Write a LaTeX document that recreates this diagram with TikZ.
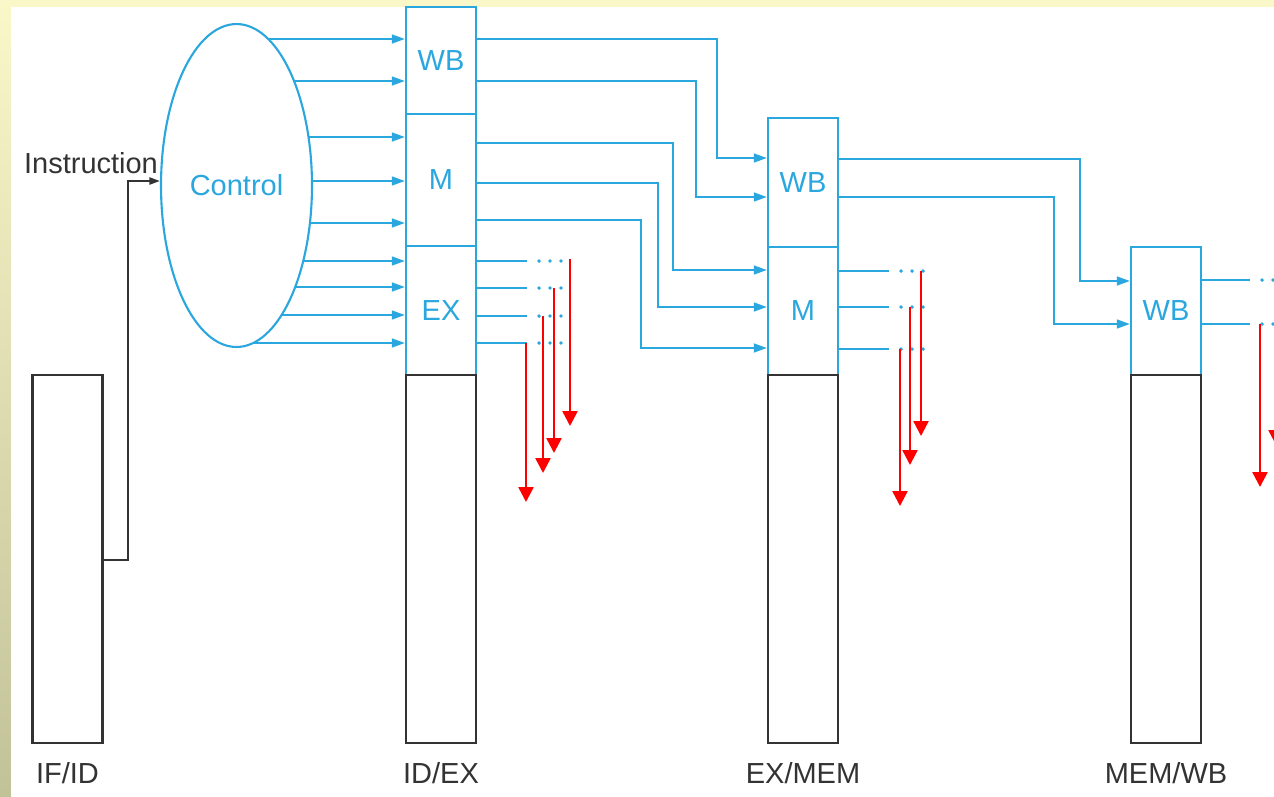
\documentclass[tikz,border=0pt]{standalone}
\usepackage{fontspec}
\setmainfont{Liberation Sans}
\usetikzlibrary{shapes.geometric, arrows.meta, positioning, calc}
\definecolor{ctlblue}{HTML}{2AA7DE}
\definecolor{latchgray}{HTML}{333333}
\definecolor{slideyellow}{HTML}{FAF7C9}
\definecolor{slideolive}{HTML}{C2C299}
\pgfdeclarelayer{bg}
\pgfsetlayers{bg,main}

\begin{document}
\begin{tikzpicture}[
    x=0.02cm, y=-0.02cm,
    every node/.style={font=\fontsize{16.5}{19}\selectfont},
    stage/.style={draw=ctlblue, fill=white, line width=1.2pt, minimum width=1.4cm, inner sep=0pt, text=ctlblue},
    latch/.style={draw=latchgray, fill=white, line width=1.2pt, minimum width=1.4cm, minimum height=7.36cm, inner sep=0pt},
    ctl/.style={draw=ctlblue, line width=1.2pt, -{Triangle[length=7.5pt, width=5pt]}},
    stub/.style={draw=ctlblue, line width=1.2pt},
    etc/.style={draw=ctlblue, line width=2.2pt, line cap=round, dash pattern=on 0pt off 0.22cm},
    flow/.style={draw=red, line width=1.4pt, -{Triangle[length=8.5pt, width=8.5pt]}},
    wire/.style={draw=latchgray, line width=1.2pt, -{Triangle[length=6pt, width=4pt]}}
]
    \useasboundingbox (0,0) rectangle (1274,796);

    % Pipeline registers
    \node[latch] (ifid) at (67.5,559) {};
    \node[stage, minimum height=2.14cm] (idexwb) at (441,60.5) {WB};
    \node[stage, minimum height=2.64cm] (idexm) at (441,180) {M};
    \node[stage, minimum height=2.58cm] (idexex) at (441,310.5) {EX};
    \node[latch] (idexlow) at (441,559) {};
    \node[stage, minimum height=2.58cm] (exmemwb) at (803,182.5) {WB};
    \node[stage, minimum height=2.56cm] (exmemm) at (803,311) {M};
    \node[latch] (exmemlow) at (803,559) {};
    \node[stage, minimum height=2.56cm] (memwbwb) at (1166,311) {WB};
    \node[latch] (memwblow) at (1166,559) {};

    % Register names
    \node[text=latchgray] (ifidlbl) at (67.5,773) {IF/ID};
    \node[text=latchgray] (idexlbl) at (441,773) {ID/EX};
    \node[text=latchgray] (exmemlbl) at (803,773) {EX/MEM};
    \node[text=latchgray] (memwblbl) at (1166,773) {MEM/WB};

    % Control unit
    \node[ellipse, draw=ctlblue, fill=white, line width=1.2pt, minimum width=3.02cm, minimum height=6.46cm, inner sep=0pt, text=ctlblue] (ctrl) at (236.5,185.5) {Control};
    \node[anchor=base, text=latchgray] (instr) at (91,173) {Instruction};
    \draw[wire] (ifid.east |- 0,560) -- (128,560) |- (ctrl.west |- 0,181);

    \begin{pgfonlayer}{bg}
        \fill[slideyellow] (0,0) rectangle (1274,796);
        \shade[top color=slideyellow, bottom color=slideolive] (0,0) rectangle (11,796);
        \fill[white] (11,7) rectangle (1274,796);
        % Control lines into ID/EX
        \draw[ctl] (ctrl.center |- 0,39) -- (idexwb.west |- 0,39);
        \draw[ctl] (ctrl.center |- 0,81) -- (idexwb.west |- 0,81);
        \draw[ctl] (ctrl.center |- 0,137) -- (idexm.west |- 0,137);
        \draw[ctl] (ctrl.center |- 0,181) -- (idexm.west |- 0,181);
        \draw[ctl] (ctrl.center |- 0,223) -- (idexm.west |- 0,223);
        \draw[ctl] (ctrl.center |- 0,261) -- (idexex.west |- 0,261);
        \draw[ctl] (ctrl.center |- 0,287) -- (idexex.west |- 0,287);
        \draw[ctl] (ctrl.center |- 0,315) -- (idexex.west |- 0,315);
        \draw[ctl] (ctrl.center |- 0,343) -- (idexex.west |- 0,343);
    \end{pgfonlayer}

    % ID/EX to EX/MEM
    \draw[ctl] (idexwb.east |- 0,39) -- (717,39) |- (exmemwb.west |- 0,158);
    \draw[ctl] (idexwb.east |- 0,81) -- (696,81) |- (exmemwb.west |- 0,197);
    \draw[ctl] (idexm.east |- 0,143) -- (673,143) |- (exmemm.west |- 0,270);
    \draw[ctl] (idexm.east |- 0,183) -- (658,183) |- (exmemm.west |- 0,307);
    \draw[ctl] (idexm.east |- 0,220) -- (641,220) |- (exmemm.west |- 0,348);

    % EX/MEM to MEM/WB
    \draw[ctl] (exmemwb.east |- 0,159) -- (1080,159) |- (memwbwb.west |- 0,281);
    \draw[ctl] (exmemwb.east |- 0,197) -- (1054,197) |- (memwbwb.west |- 0,324);

    % EX stage signals
    \draw[stub] (idexex.east |- 0,261) -- ++(50,0);
    \draw[stub] (idexex.east |- 0,288) -- ++(50,0);
    \draw[stub] (idexex.east |- 0,316) -- ++(50,0);
    \draw[stub] (idexex.east |- 0,343) -- ++(50,0);
    \draw[etc] (idexex.east |- 0,261) ++(62,0) -- ++(22,0);
    \draw[etc] (idexex.east |- 0,288) ++(62,0) -- ++(22,0);
    \draw[etc] (idexex.east |- 0,316) ++(62,0) -- ++(22,0);
    \draw[etc] (idexex.east |- 0,343) ++(62,0) -- ++(22,0);

    % MEM stage signals
    \draw[stub] (exmemm.east |- 0,271) -- ++(50,0);
    \draw[stub] (exmemm.east |- 0,307) -- ++(50,0);
    \draw[stub] (exmemm.east |- 0,349) -- ++(50,0);
    \draw[etc] (exmemm.east |- 0,271) ++(62,0) -- ++(22,0);
    \draw[etc] (exmemm.east |- 0,307) ++(62,0) -- ++(22,0);
    \draw[etc] (exmemm.east |- 0,349) ++(62,0) -- ++(22,0);

    % WB stage signals
    \draw[stub] (memwbwb.east |- 0,280) -- ++(48,0);
    \draw[stub] (memwbwb.east |- 0,324) -- ++(48,0);
    \draw[etc] (memwbwb.east |- 0,280) ++(60,0) -- ++(22,0);
    \draw[etc] (memwbwb.east |- 0,324) ++(60,0) -- ++(22,0);

    % Signals used in each stage
    \coordinate (ex1) at (570,259);
    \coordinate (ex2) at (554,288);
    \coordinate (ex3) at (543,316);
    \coordinate (ex4) at (526,343);
    \coordinate (mem1) at (921,271);
    \coordinate (mem2) at (910,307);
    \coordinate (mem3) at (900,349);
    \coordinate (wb1) at (1276,280);
    \coordinate (wb2) at (1260,324);
    \draw[flow] (ex1) -- ++(0,167);
    \draw[flow] (ex2) -- ++(0,165);
    \draw[flow] (ex3) -- ++(0,157);
    \draw[flow] (ex4) -- ++(0,159);
    \draw[flow] (mem1) -- ++(0,165);
    \draw[flow] (mem2) -- ++(0,158);
    \draw[flow] (mem3) -- ++(0,157);
    \draw[flow] (wb1) -- ++(0,165);
    \draw[flow] (wb2) -- ++(0,163);
\end{tikzpicture}
\end{document}
